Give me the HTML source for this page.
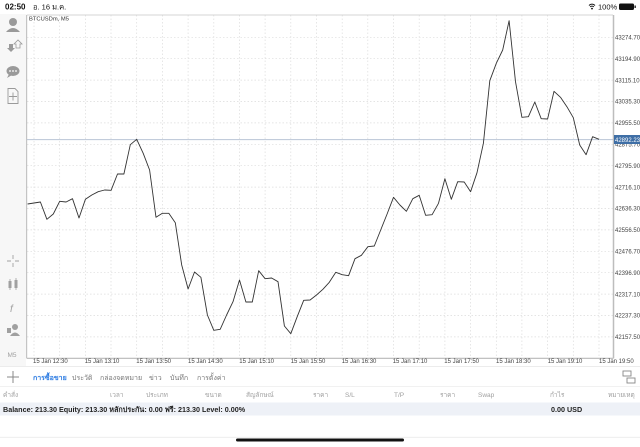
<!DOCTYPE html>
<html><head><meta charset="utf-8">
<style>
html,body{margin:0;padding:0;background:#fff;}
body{width:640px;height:447px;overflow:hidden;position:relative;font-family:"Liberation Sans","DejaVu Sans",sans-serif;}
svg{position:absolute;left:0;top:0;}
</style></head><body>
<svg width="640" height="447" viewBox="0 0 640 447" xmlns="http://www.w3.org/2000/svg" font-family="Liberation Sans, DejaVu Sans, sans-serif">
<!-- status bar -->
<text x="5" y="9.5" font-size="8" font-weight="bold" fill="#111">02:50</text>
<text x="33" y="9.5" font-size="7.5" fill="#111">อ. 16 ม.ค.</text>
<path d="M589 5.5 a4 4 0 0 1 6 0 M590.2 7 a2.2 2.2 0 0 1 3.6 0" stroke="#111" stroke-width="1" fill="none"/>
<circle cx="592" cy="8.6" r="0.9" fill="#111"/>
<text x="598" y="9.5" font-size="7.5" fill="#111">100%</text>
<rect x="619" y="3.5" width="15" height="6.5" rx="1.5" fill="#111"/>
<rect x="634.5" y="5.5" width="1.3" height="2.5" fill="#111"/>

<!-- sidebar -->
<rect x="0" y="14" width="26" height="352" fill="#f7f7f7"/>
<g fill="#9a9a9a">
 <circle cx="13" cy="22" r="4"/>
 <path d="M6 32 q7 -8 14 0 z"/>
 <path d="M9 44 h4 v4 h2 l-4 4 l-4 -4 h2 z"/>
 <path d="M16 48 v-4 h-2 l4 -4 l4 4 h-2 v4 z" fill="none" stroke="#9a9a9a" stroke-width="0.8"/>
 <ellipse cx="13" cy="71" rx="6.5" ry="5"/>
 <path d="M9 74 l-2 4 l5 -3 z"/>
</g>
<g fill="#fff"><circle cx="10" cy="71" r="0.9"/><circle cx="13" cy="71" r="0.9"/><circle cx="16" cy="71" r="0.9"/></g>
<path d="M8 88.5 h7 l3 3 v12 h-10 z" fill="none" stroke="#9a9a9a" stroke-width="0.9"/>
<path d="M13 92.5 v8 M9 96.5 h8" stroke="#9a9a9a" stroke-width="0.9"/>
<path d="M13 255 v4 M13 263 v4 M7 261 h4 M15 261 h4" stroke="#a0a0a0" stroke-width="0.9"/>
<g fill="#a0a0a0"><rect x="8.5" y="281" width="3" height="7"/><rect x="14.5" y="280" width="3" height="8"/><rect x="9.6" y="279" width="0.8" height="11"/><rect x="15.6" y="278" width="0.8" height="12"/></g>
<text x="10" y="312" font-size="10" font-style="italic" fill="#a0a0a0">f</text>
<g fill="#a0a0a0"><circle cx="15" cy="327" r="3"/><path d="M10 336 q5 -7 10 0 z"/><rect x="7" y="328" width="4" height="5"/></g>
<text x="7.5" y="357" font-size="6.5" fill="#a0a0a0">M5</text>

<!-- chart grid -->
<g stroke="#dcdcdc" stroke-width="0.7" stroke-dasharray="1.5,2">
 <line x1="27" y1="37.3" x2="613" y2="37.3"/><line x1="27" y1="58.7" x2="613" y2="58.7"/><line x1="27" y1="80.1" x2="613" y2="80.1"/><line x1="27" y1="101.5" x2="613" y2="101.5"/><line x1="27" y1="122.9" x2="613" y2="122.9"/><line x1="27" y1="144.3" x2="613" y2="144.3"/><line x1="27" y1="165.7" x2="613" y2="165.7"/><line x1="27" y1="187.1" x2="613" y2="187.1"/><line x1="27" y1="208.5" x2="613" y2="208.5"/><line x1="27" y1="229.9" x2="613" y2="229.9"/><line x1="27" y1="251.3" x2="613" y2="251.3"/><line x1="27" y1="272.7" x2="613" y2="272.7"/><line x1="27" y1="294.1" x2="613" y2="294.1"/><line x1="27" y1="315.5" x2="613" y2="315.5"/><line x1="27" y1="336.9" x2="613" y2="336.9"/>
 <line x1="34" y1="15" x2="34" y2="358"/><line x1="59.7" y1="15" x2="59.7" y2="358"/><line x1="85.4" y1="15" x2="85.4" y2="358"/><line x1="111" y1="15" x2="111" y2="358"/><line x1="136.7" y1="15" x2="136.7" y2="358"/><line x1="162.4" y1="15" x2="162.4" y2="358"/><line x1="188.1" y1="15" x2="188.1" y2="358"/><line x1="213.8" y1="15" x2="213.8" y2="358"/><line x1="239.4" y1="15" x2="239.4" y2="358"/><line x1="265.1" y1="15" x2="265.1" y2="358"/><line x1="290.8" y1="15" x2="290.8" y2="358"/><line x1="316.5" y1="15" x2="316.5" y2="358"/><line x1="342.2" y1="15" x2="342.2" y2="358"/><line x1="367.8" y1="15" x2="367.8" y2="358"/><line x1="393.5" y1="15" x2="393.5" y2="358"/><line x1="419.2" y1="15" x2="419.2" y2="358"/><line x1="444.9" y1="15" x2="444.9" y2="358"/><line x1="470.6" y1="15" x2="470.6" y2="358"/><line x1="496.3" y1="15" x2="496.3" y2="358"/><line x1="521.9" y1="15" x2="521.9" y2="358"/><line x1="547.6" y1="15" x2="547.6" y2="358"/><line x1="573.3" y1="15" x2="573.3" y2="358"/><line x1="599" y1="15" x2="599" y2="358"/>
</g>
<!-- borders -->
<line x1="26.7" y1="15" x2="613" y2="15" stroke="#c8c8c8" stroke-width="0.8"/>
<line x1="26.7" y1="15" x2="26.7" y2="358.3" stroke="#b0b0b0" stroke-width="0.9"/>
<line x1="26.7" y1="358.3" x2="613.5" y2="358.3" stroke="#b8b8b8" stroke-width="1.2"/>
<line x1="613.5" y1="15" x2="613.5" y2="358.3" stroke="#bdbdbd" stroke-width="1.5"/>

<!-- price line -->
<line x1="27" y1="139.6" x2="613" y2="139.6" stroke="#b9c5d6" stroke-width="1"/>

<text x="29" y="20.5" font-size="5.8" fill="#333">BTCUSDm, M5</text>

<!-- series -->
<polyline fill="none" stroke="#333" stroke-width="0.9" stroke-linejoin="round" points="27.6,204 34.0,203 40.4,202 46.9,219.3 53.3,214 59.7,201.3 66.1,202 72.5,198.7 79.0,218 85.4,199.3 91.8,195 98.2,191.7 104.6,190 111.1,190.3 117.5,174 123.9,174 130.3,144.7 136.7,139.3 143.2,153.3 149.6,170 156.0,217.3 162.4,213.3 168.8,213.3 175.3,222.7 181.7,265 188.1,289 194.5,272 200.9,277.3 207.4,315 213.8,330.3 220.2,329.3 226.6,315 233.0,301.7 239.5,280 245.9,302 252.3,302 258.7,270.7 265.1,278.7 271.6,278 278.0,281.7 284.4,326 290.8,333.7 297.2,316.7 303.7,300.3 310.1,300 316.5,295 322.9,289.3 329.3,282.3 335.8,272.3 342.2,274.7 348.6,275.7 355.0,258.7 361.4,255.3 367.9,246.7 374.3,246 380.7,230 387.1,214 393.5,197.3 399.9,205 406.4,211.3 412.8,198.7 419.2,195.3 425.6,215.3 432.1,214.7 438.5,203.3 444.9,178.7 451.3,199.3 457.7,181.7 464.2,182 470.6,191.7 477.0,172.7 483.4,143.3 489.8,80.7 496.3,63.3 502.7,50 509.1,20.7 515.5,81.7 521.9,117.3 528.4,116.7 534.8,102 541.2,118.7 547.6,119 554.0,91.3 560.5,97.3 566.9,106.7 573.3,117.7 579.7,145 586.1,154.7 592.6,136.7 599.0,139.3"/>

<!-- y axis labels -->
<g font-size="6" fill="#444">
 <text x="615" y="39.5">43274.70</text><text x="615" y="60.9">43194.90</text><text x="615" y="82.3">43115.10</text><text x="615" y="103.7">43035.30</text><text x="615" y="125.1">42955.50</text><text x="615" y="146.5">42875.70</text><text x="615" y="167.9">42795.90</text><text x="615" y="189.3">42716.10</text><text x="615" y="210.7">42636.30</text><text x="615" y="232.1">42556.50</text><text x="615" y="253.5">42476.70</text><text x="615" y="274.9">42396.90</text><text x="615" y="296.3">42317.10</text><text x="615" y="317.7">42237.30</text><text x="615" y="339.1">42157.50</text>
</g>
<rect x="614" y="135" width="26" height="9" fill="#3f6fa6"/>
<text x="615" y="141.9" font-size="6" fill="#fff">42892.23</text>

<!-- x axis labels -->
<g font-size="6" fill="#444">
 <text x="33" y="363">15 Jan 12:30</text><text x="84.7" y="363">15 Jan 13:10</text><text x="136.3" y="363">15 Jan 13:50</text><text x="188" y="363">15 Jan 14:30</text><text x="239.3" y="363">15 Jan 15:10</text><text x="290.7" y="363">15 Jan 15:50</text><text x="341.7" y="363">15 Jan 16:30</text><text x="392.7" y="363">15 Jan 17:10</text><text x="444.3" y="363">15 Jan 17:50</text><text x="496" y="363">15 Jan 18:30</text><text x="547.7" y="363">15 Jan 19:10</text><text x="599" y="363">15 Jan 19:50</text>
</g>

<!-- tab bar -->
<line x1="0" y1="366.5" x2="640" y2="366.5" stroke="#e6e6e6" stroke-width="0.8"/>
<path d="M13 371 v12 M7 377 h12" stroke="#888" stroke-width="1"/>
<g font-size="7" fill="#777">
 <text x="33" y="380" fill="#2a7ae2" font-weight="bold">การซื้อขาย</text>
 <text x="72" y="380">ประวัติ</text>
 <text x="100" y="380">กล่องจดหมาย</text>
 <text x="149" y="380">ข่าว</text>
 <text x="170" y="380">บันทึก</text>
 <text x="197" y="380">การตั้งค่า</text>
</g>
<g stroke="#888" stroke-width="0.9" fill="none"><rect x="623" y="371" width="8" height="5"/><rect x="627" y="378" width="8" height="5"/></g>
<line x1="0" y1="386.5" x2="640" y2="386.5" stroke="#ececec" stroke-width="0.8"/>

<!-- header row -->
<g font-size="6.5" fill="#a0a0a0">
 <text x="3" y="397">คำสั่ง</text>
 <text x="110" y="397">เวลา</text>
 <text x="146" y="397">ประเภท</text>
 <text x="205" y="397">ขนาด</text>
 <text x="246" y="397">สัญลักษณ์</text>
 <text x="313" y="397">ราคา</text>
 <text x="345" y="397">S/L</text>
 <text x="394" y="397">T/P</text>
 <text x="440" y="397">ราคา</text>
 <text x="478" y="397">Swap</text>
 <text x="550" y="397">กำไร</text>
 <text x="608" y="397">หมายเหตุ</text>
</g>

<!-- balance row -->
<rect x="0" y="402.5" width="640" height="13" fill="#eef1f7"/>
<text x="3" y="411.8" font-size="7.2" font-weight="bold" fill="#222">Balance: 213.30 Equity: 213.30 หลักประกัน: 0.00 ฟรี: 213.30 Level: 0.00%</text>
<text x="551" y="411.8" font-size="7.2" font-weight="bold" fill="#222">0.00  USD</text>

<line x1="0" y1="437.3" x2="640" y2="437.3" stroke="#ececec" stroke-width="0.8"/>
<rect x="236" y="438.5" width="168" height="3" rx="1.5" fill="#111"/>
</svg>
</body></html>
